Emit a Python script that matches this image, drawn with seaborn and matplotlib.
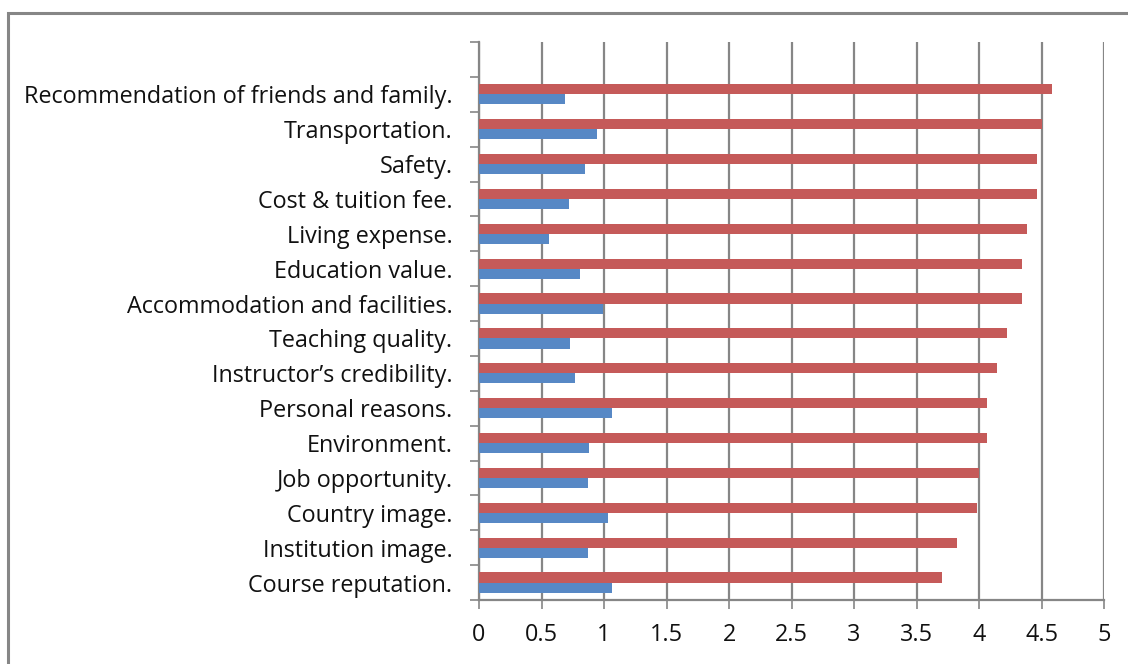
import matplotlib
matplotlib.use("Agg")
import matplotlib.pyplot as plt
import seaborn as sns
import pandas as pd
import numpy as np
from matplotlib.patches import Rectangle
from matplotlib.ticker import FixedLocator, FuncFormatter

categories = [
    "Recommendation of friends and family.",
    "Transportation.",
    "Safety.",
    "Cost & tuition fee.",
    "Living expense.",
    "Education value.",
    "Accommodation and facilities.",
    "Teaching quality.",
    "Instructor\u2019s credibility.",
    "Personal reasons.",
    "Environment.",
    "Job opportunity.",
    "Country image.",
    "Institution image.",
    "Course reputation.",
]
mean_values = [4.58, 4.50, 4.46, 4.46, 4.38, 4.34, 4.34, 4.22, 4.14,
               4.06, 4.06, 4.00, 3.98, 3.82, 3.70]
sd_values = [0.69, 0.94, 0.85, 0.72, 0.56, 0.81, 0.99, 0.73, 0.77,
             1.06, 0.88, 0.87, 1.03, 0.87, 1.06]
series_names = ["Mean", "S.D."]
x_ticks = [0, 0.5, 1, 1.5, 2, 2.5, 3, 3.5, 4, 4.5, 5]

df = pd.DataFrame({
    "category": categories * 2,
    "value": mean_values + sd_values,
    "series": [series_names[0]] * len(categories) + [series_names[1]] * len(categories),
})

sns.set_theme(style="white")
plt.rcParams["font.family"] = ["Open Sans", "DejaVu Sans"]

W, H = 1128, 664
fig = plt.figure(figsize=(W / 100, H / 100), dpi=100)
ax = fig.add_axes([479 / W, 1 - 600 / H, (1104 - 479) / W, (600 - 42) / H])

grid_col = "#868686"
palette = {"Mean": "#C55A59", "S.D.": "#5788C5"}

sns.barplot(data=df, y="category", x="value", hue="series", order=categories,
            hue_order=series_names, palette=palette, orient="h", width=0.58,
            saturation=1, legend=False, linewidth=0, ax=ax, zorder=3)

ax.set_xlim(0, 5)
ax.set_ylim(len(categories) - 0.5, -1.5)
ax.set_xlabel("")
ax.set_ylabel("")

ax.xaxis.set_major_locator(FixedLocator(x_ticks))
ax.xaxis.set_major_formatter(FuncFormatter(lambda v, p: f"{v:g}"))
ax.grid(axis="x", color=grid_col, linewidth=1.6, zorder=0)
ax.set_axisbelow(True)

ax.yaxis.set_minor_locator(FixedLocator(np.arange(-1.5, len(categories), 1.0)))
ax.tick_params(axis="y", which="major", length=0, pad=19, labelsize=16.8, labelcolor="#111111")
ax.tick_params(axis="y", which="minor", length=6.5, width=1.2, color=grid_col, left=True)
ax.tick_params(axis="x", which="major", length=6.5, width=1.2, color=grid_col,
               bottom=True, pad=10, labelsize=16.8, labelcolor="#111111")

for s in ["top", "right"]:
    ax.spines[s].set_visible(False)
for s in ["left", "bottom"]:
    ax.spines[s].set_color(grid_col)
    ax.spines[s].set_linewidth(1.6)

frame = Rectangle((8 / W, -0.1), 1.2, 1 - 13 / H + 0.1, transform=fig.transFigure,
                  fill=False, edgecolor=grid_col, linewidth=2.2, clip_on=False)
fig.patches.append(frame)

fig.savefig("out.png", dpi=100)
